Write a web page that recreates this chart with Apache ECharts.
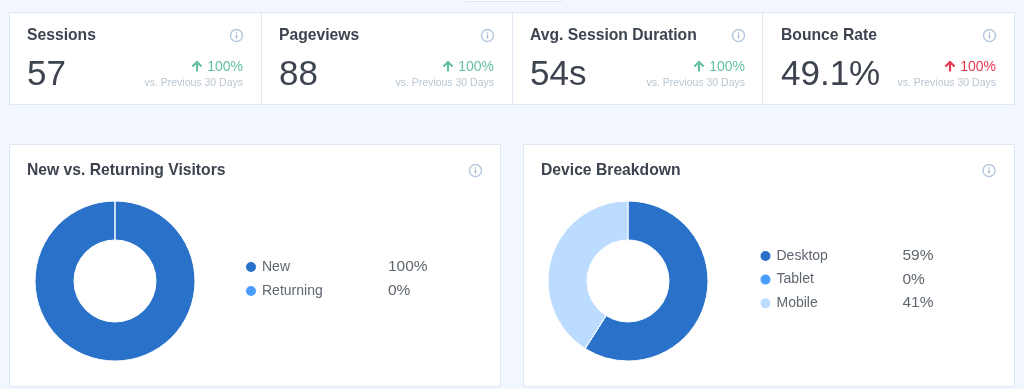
<!DOCTYPE html>
<html>
<head>
<meta charset="utf-8">
<title>Dashboard</title>
<style>
html,body{margin:0;padding:0;background:#f2f6ff;}
#main{width:1024px;height:389px;}
</style>
<script src="https://cdn.jsdelivr.net/npm/echarts@6/dist/echarts.min.js"></script>
</head>
<body>
<div id="main"></div>
<script>
var kpiNames = ['Sessions', 'Pageviews', 'Avg. Session Duration', 'Bounce Rate'];
var kpiValues = ['57', '88', '54s', '49.1%'];
var kpiDeltas = ['100%', '100%', '100%', '100%'];
var kpiCompare = 'vs. Previous 30 Days';
var visitorNames = ['New', 'Returning'];
var visitorValues = [100, 0];
var deviceNames = ['Desktop', 'Tablet', 'Mobile'];
var deviceValues = [59, 0, 41];

var FONT = '"Liberation Sans", Arial, sans-serif';
var colors = ['#2a72c9', '#4a9dff', '#bcdcff'];
var green = '#63c29d', red = '#e5384f', dark = '#3d4450', grey = '#5f6670', faint = '#b9c6d2', line = '#dde7f3';

var kpiX = [27, 279, 530, 781];     // title left edge of each kpi cell
var kpiRight = [243, 494, 745, 996]; // right edge of text in each kpi cell
var kpiDivider = [261, 512, 762];

function txt(x, y, text, size, color, weight, align) {
    return {
        type: 'text', x: x, y: y, silent: true,
        style: {
            text: text, fill: color, align: align || 'left', verticalAlign: 'middle',
            font: (weight || 'normal') + ' ' + size + 'px ' + FONT
        }
    };
}
function card(x, y, w, h) {
    return {
        type: 'rect', silent: true,
        shape: {x: x + 0.5, y: y + 0.5, width: w, height: h},
        style: {fill: '#fff', stroke: line, lineWidth: 1}
    };
}
function infoIcon(cx, cy) {
    return [
        {type: 'circle', silent: true, shape: {cx: cx, cy: cy, r: 6}, style: {fill: 'none', stroke: '#b7c9de', lineWidth: 1.5}},
        {type: 'circle', silent: true, shape: {cx: cx, cy: cy - 2.4, r: 0.8}, style: {fill: '#9fb4cb'}},
        {type: 'line', silent: true, shape: {x1: cx, y1: cy - 0.8, x2: cx, y2: cy + 3}, style: {stroke: '#9fb4cb', lineWidth: 1.5}}
    ];
}
function upArrow(cx, cy, color) {
    return [
        {type: 'line', silent: true, shape: {x1: cx, y1: cy - 4.5, x2: cx, y2: cy + 5}, style: {stroke: color, lineWidth: 2.2}},
        {type: 'polyline', silent: true, shape: {points: [[cx - 4.6, cy], [cx, cy - 4.5], [cx + 4.6, cy]]}, style: {fill: 'none', stroke: color, lineWidth: 2.2}}
    ];
}

var graphics = [];
// small tab at the very top
graphics.push(card(464, -6, 96, 7));
graphics.push(card(9, 12, 1005, 92));
kpiDivider.forEach(function (x) {
    graphics.push({type: 'line', silent: true, shape: {x1: x + 0.5, y1: 12, x2: x + 0.5, y2: 104}, style: {stroke: line, lineWidth: 1}});
});
kpiNames.forEach(function (name, i) {
    var color = i === 3 ? red : green;
    graphics.push(txt(kpiX[i], 35.5, name, 15.7, dark, 'bold'));
    graphics.push(txt(kpiX[i], 75, kpiValues[i], 35, dark));
    graphics.push(txt(kpiRight[i], 67.5, kpiDeltas[i], 14, color, 'normal', 'right'));
    graphics.push(txt(kpiRight[i], 83, kpiCompare, 10.5, faint, 'normal', 'right'));
    graphics = graphics.concat(infoIcon(kpiRight[i] - 6.5, 35.5));
    graphics = graphics.concat(upArrow(kpiRight[i] - 46, 66.5, color));
});
graphics.push(card(9, 144, 491, 242));
graphics.push(card(523, 144, 491, 242));
graphics.push(txt(27, 170.5, 'New vs. Returning Visitors', 15.7, dark, 'bold'));
graphics.push(txt(541, 170.5, 'Device Breakdown', 15.7, dark, 'bold'));
graphics = graphics.concat(infoIcon(475.5, 170.5));
graphics = graphics.concat(infoIcon(989, 170.5));

function pieData(names, values) {
    return names.map(function (n, i) {
        return {name: n, value: values[i], itemStyle: {color: colors[i]}};
    });
}
function pieSeries(cx, names, values) {
    return {
        type: 'pie', center: [cx, 281], radius: [41, 80], startAngle: 90, clockwise: true,
        silent: true, animation: false, stillShowZeroSum: true,
        itemStyle: {borderColor: '#fff', borderWidth: 1},
        label: {show: false}, labelLine: {show: false},
        data: pieData(names, values)
    };
}
function legendOf(left, top, gap, names, values) {
    return {
        left: left, top: top, orient: 'vertical', icon: 'circle',
        itemWidth: 12, itemHeight: 12, itemGap: gap, selectedMode: false,
        data: names,
        formatter: function (n) {
            return '{n|' + n + '}{v|' + values[names.indexOf(n)] + '%}';
        },
        textStyle: {
            fontFamily: FONT,
            rich: {
                n: {width: 126, fontSize: 14, color: grey, fontFamily: FONT, lineHeight: 16},
                v: {fontSize: 15.5, color: grey, fontFamily: FONT, lineHeight: 16}
            }
        }
    };
}

var myChart = echarts.init(document.getElementById('main'));
myChart.setOption({
    animation: false,
    backgroundColor: '#f2f6ff',
    graphic: {elements: graphics},
    legend: [
        legendOf(239, 254, 8, visitorNames, visitorValues),
        legendOf(753.5, 243, 7.6, deviceNames, deviceValues)
    ],
    series: [
        pieSeries(115, visitorNames, visitorValues),
        pieSeries(628, deviceNames, deviceValues)
    ]
});
</script>
</body>
</html>
